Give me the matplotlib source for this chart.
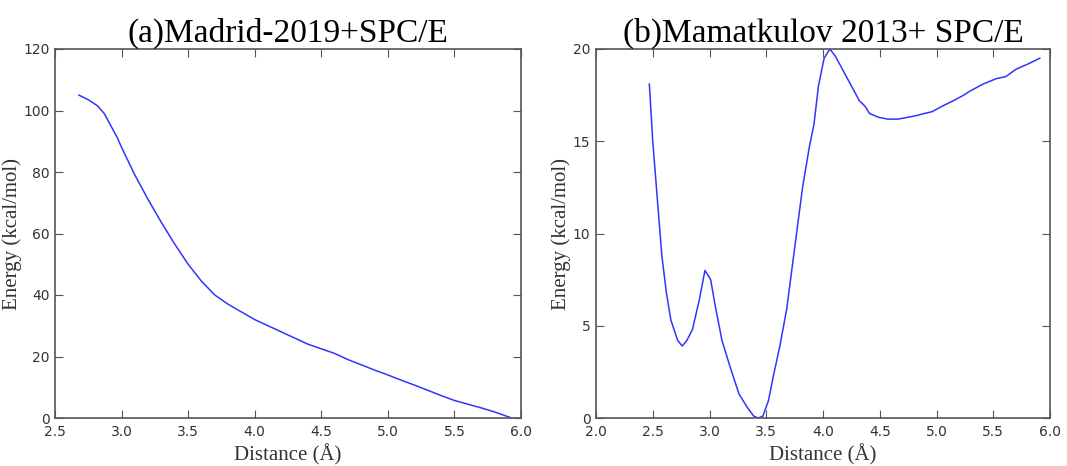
import numpy as np
import matplotlib
matplotlib.use("Agg")
import matplotlib.pyplot as plt

# (a) Madrid-2019 + SPC/E
dist_a = [2.68, 2.75, 2.82, 2.87, 2.92, 2.97, 3.0, 3.1, 3.2, 3.3, 3.4, 3.5, 3.6,
          3.7, 3.8, 3.9, 4.0, 4.1, 4.2, 4.3, 4.4, 4.5, 4.6, 4.7, 4.8, 4.9, 5.0,
          5.1, 5.2, 5.3, 5.4, 5.5, 5.6, 5.7, 5.8, 5.93]
energy_a = [105, 103.5, 101.5, 99, 95, 91, 88, 79, 71, 63.5, 56.5, 50, 44.5,
            40, 37, 34.5, 32, 30, 28, 26, 24, 22.5, 21, 19, 17.3, 15.6, 14,
            12.3, 10.7, 9, 7.3, 5.7, 4.5, 3.3, 2, 0]

# (b) Mamatkulov 2013 + SPC/E
dist_b = [2.47, 2.50, 2.54, 2.58, 2.62, 2.66, 2.72, 2.76, 2.80, 2.85, 2.91, 2.96,
          3.01, 3.05, 3.11, 3.18, 3.26, 3.33, 3.39, 3.43, 3.47, 3.52, 3.56, 3.62,
          3.68, 3.75, 3.82, 3.88, 3.92, 3.96, 4.01, 4.06, 4.11, 4.18, 4.25, 4.32,
          4.37, 4.41, 4.49, 4.57, 4.66, 4.75, 4.83, 4.89, 4.96, 5.05, 5.15, 5.24,
          5.29, 5.41, 5.53, 5.61, 5.70, 5.81, 5.91]
energy_b = [18.1, 15.0, 11.9, 8.8, 6.8, 5.3, 4.2, 3.9, 4.2, 4.8, 6.4, 8.0,
            7.5, 6.1, 4.2, 2.8, 1.3, 0.6, 0.1, 0.0, 0.1, 0.95, 2.2, 3.9,
            5.9, 9.2, 12.5, 14.7, 15.9, 18.0, 19.5, 20.0, 19.6, 18.8, 18.0, 17.2,
            16.9, 16.5, 16.3, 16.2, 16.2, 16.3, 16.4, 16.5, 16.6, 16.9, 17.2, 17.5,
            17.7, 18.1, 18.4, 18.5, 18.9, 19.2, 19.5]

serif = ['Liberation Serif', 'DejaVu Serif']
spine_col = '#555555'

fig = plt.figure(figsize=(10.67, 4.66), dpi=100)
ax1 = fig.add_axes([55 / 1067, 1 - 418 / 466, 466 / 1067, 369 / 466])
ax2 = fig.add_axes([596 / 1067, 1 - 418 / 466, 454 / 1067, 369 / 466])

panels = [
    (ax1, dist_a, energy_a, '(a)Madrid-2019+SPC/E', (2.5, 6.0), (0, 120),
     np.arange(2.5, 6.01, 0.5), np.arange(0, 121, 20)),
    (ax2, dist_b, energy_b, '(b)Mamatkulov 2013+ SPC/E', (2.0, 6.0), (0, 20),
     np.arange(2.0, 6.01, 0.5), np.arange(0, 21, 5)),
]

for ax, x, y, title, xl, yl, xt, yt in panels:
    ax.plot(x, y, color='#3333ff', lw=1.1)
    ax.set_xlim(*xl)
    ax.set_ylim(*yl)
    ax.set_xticks(xt)
    ax.set_xticklabels(['%.1f' % v for v in xt])
    ax.set_yticks(yt)
    ax.tick_params(direction='in', top=True, right=True, length=6,
                   color=spine_col, labelsize=10, labelcolor='#333333')
    ax.tick_params(axis='x', pad=5)
    ax.tick_params(axis='y', pad=4)
    for s in ax.spines.values():
        s.set_color(spine_col)
        s.set_linewidth(1.2)
    ax.set_title(title, family=serif, fontsize=24, pad=5)
    ax.set_xlabel('Distance (Å)', family=serif, fontsize=15, color='#333333', labelpad=4)
    ax.set_ylabel('Energy (kcal/mol)', family=serif, fontsize=15, color='#333333', labelpad=1)

fig.savefig('out.png', dpi=100)
